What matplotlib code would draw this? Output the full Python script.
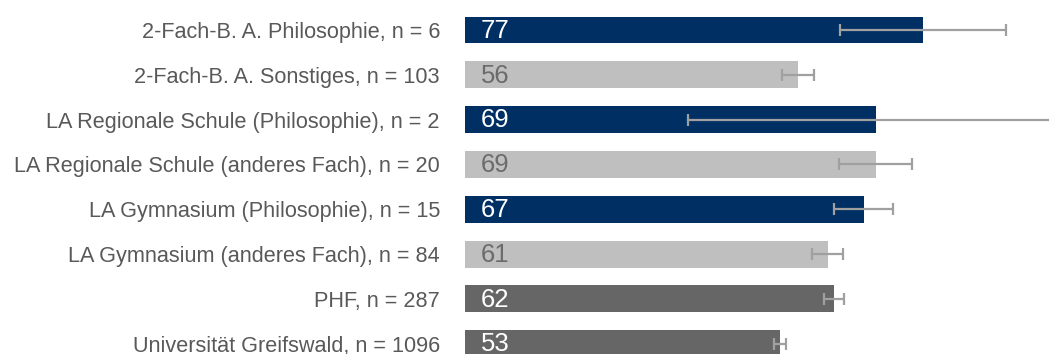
import matplotlib
matplotlib.use("Agg")
import matplotlib.pyplot as plt
from matplotlib import font_manager

# Groups from top to bottom
labels = [
    "2-Fach-B. A. Philosophie, n = 6",
    "2-Fach-B. A. Sonstiges, n = 103",
    "LA Regionale Schule (Philosophie), n = 2",
    "LA Regionale Schule (anderes Fach), n = 20",
    "LA Gymnasium (Philosophie), n = 15",
    "LA Gymnasium (anderes Fach), n = 84",
    "PHF, n = 287",
    "Universität Greifswald, n = 1096",
]
values = [77, 56, 69, 69, 67, 61, 62, 53]
errors = [14, 2.7, 31.5, 6.2, 5, 2.6, 1.7, 1]
groups = ["phil", "other", "phil", "other", "phil", "other", "all", "all"]

barColors = {"phil": "#003063", "other": "#bfbfbf", "all": "#666666"}
textColors = {"phil": "white", "other": "#6b6b6b", "all": "white"}

# Narrow font if there is one
names = {f.name for f in font_manager.fontManager.ttflist}
narrow = "Liberation Sans Narrow" in names
family = "Liberation Sans Narrow" if narrow else "Liberation Sans"
plt.rcParams["font.family"] = [family, "DejaVu Sans"]
labelSize = 17 if narrow else 15.6
valueSize = 21 if narrow else 18.5

fig = plt.figure(figsize=(10.49, 3.54), dpi=100)
ax = fig.add_axes([465 / 1049, 0, 1 - 465 / 1049, 1])

ypos = list(range(len(values)))
ax.barh(ypos, values, height=0.6, color=[barColors[g] for g in groups])
ax.errorbar(values, ypos, xerr=errors, fmt="none", ecolor="#a0a0a0",
            elinewidth=1.6, capsize=4.5, capthick=1.6)

for y, v, g in zip(ypos, values, groups):
    ax.annotate(str(v), (0, y), xytext=(11.5, -0.5), textcoords="offset points",
                va="center", ha="left", fontsize=valueSize, color=textColors[g])

ax.set_xlim(0, 98.15)
ax.set_ylim(7.23, -0.67)
ax.set_yticks(ypos)
ax.set_yticklabels(labels, fontsize=labelSize, color="#595959")
ax.tick_params(axis="y", length=0, pad=18)
ax.set_xticks([])
for s in ax.spines.values():
    s.set_visible(False)

fig.savefig("out.png", dpi=100)
